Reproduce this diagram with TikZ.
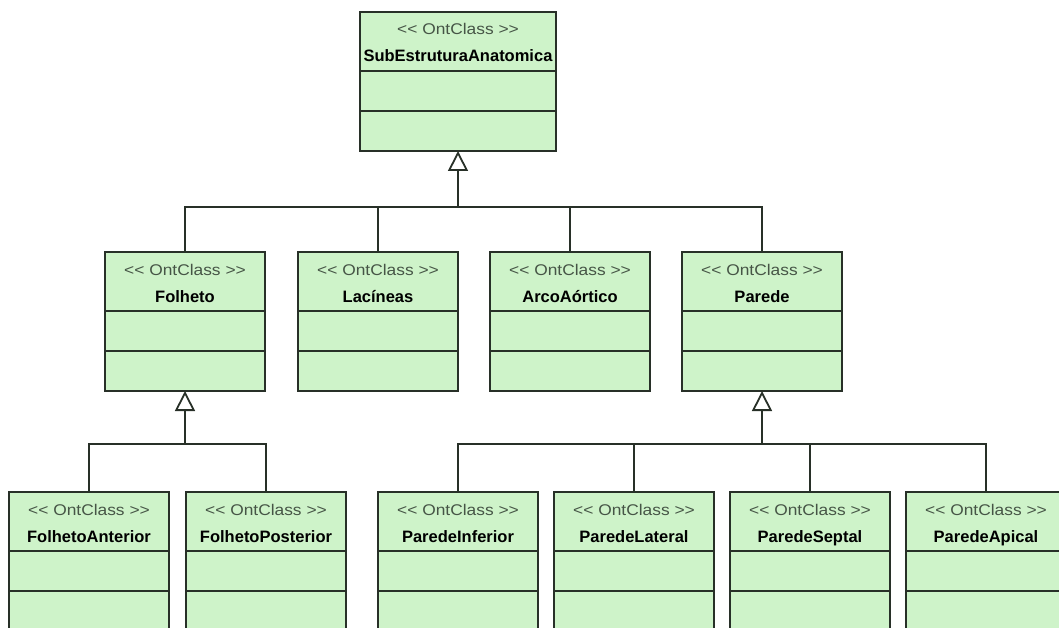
\documentclass[tikz,border=0pt]{standalone}
\usepackage{fontspec}
\setmainfont{Liberation Sans}
\newfontfamily\stereofont[FakeStretch=1.12]{Liberation Sans}
\usetikzlibrary{arrows.meta}

\definecolor{boxfill}{RGB}{206,243,201}
\definecolor{boxline}{RGB}{40,48,40}
\definecolor{stereo}{RGB}{70,85,70}

\tikzset{
  classbox/.style={draw=boxline, fill=boxfill, line width=1.8pt, rectangle,
    inner sep=0pt, outer sep=0pt, minimum height=139pt},
  stereotxt/.style={font=\stereofont\fontsize{15.5}{18}\selectfont, text=stereo, inner sep=0pt},
  nametxt/.style={font=\fontsize{16.5}{19}\selectfont\bfseries, inner sep=0pt},
  sepline/.style={draw=boxline, line width=1.8pt},
  link/.style={draw=boxline, line width=1.8pt},
  gen/.style={link, -{Triangle[open, length=20pt, width=20pt, fill=white]}},
}

% UML class box: name, x centre, y top, width, class name
\newcommand{\umlclass}[5]{%
  \node[classbox, minimum width=#4pt, anchor=north] (#1) at (#2,#3) {};
  \node[stereotxt, anchor=base] (#1-st) at ([yshift=-23pt]#1.north)
    {<{}< OntClass >{}>};
  \node[nametxt, anchor=base] (#1-nm) at ([yshift=-50pt]#1.north) {#5};
  \draw[sepline] ([yshift=-59pt]#1.north west) -- ([yshift=-59pt]#1.north east);
  \draw[sepline] ([yshift=-99pt]#1.north west) -- ([yshift=-99pt]#1.north east);
}

\begin{document}
\begin{tikzpicture}[x=1pt, y=-1pt]
  \fill[white] (0,0) rectangle (1059,628);
  \clip (0,0) rectangle (1059,628);

  % root
  \umlclass{sub}{458}{12}{196}{SubEstruturaAnatomica}

  % second level
  \umlclass{fol}{185}{252}{160}{Folheto}
  \umlclass{lac}{378}{252}{160}{Lacíneas}
  \umlclass{arc}{570}{252}{160}{ArcoAórtico}
  \umlclass{par}{762}{252}{160}{Parede}

  % third level
  \umlclass{fa}{89}{492}{160}{FolhetoAnterior}
  \umlclass{fp}{266}{492}{160}{FolhetoPosterior}
  \umlclass{pi}{458}{492}{160}{ParedeInferior}
  \umlclass{pl}{634}{492}{160}{ParedeLateral}
  \umlclass{ps}{810}{492}{160}{ParedeSeptal}
  \umlclass{pa}{986}{492}{160}{ParedeApical}

  % junction points of the generalisation trees
  \coordinate (j0) at (458,207);
  \coordinate (j1) at (185,444);
  \coordinate (j2) at (762,444);

  % SubEstruturaAnatomica hierarchy
  \draw[gen] (j0) -- (sub.south);
  \draw[link] (fol.north) |- (j0) -| (par.north);
  \draw[link] (lac.north) -- (lac.north |- j0);
  \draw[link] (arc.north) -- (arc.north |- j0);

  % Folheto hierarchy
  \draw[gen] (j1) -- (fol.south);
  \draw[link] (fa.north) |- (j1) -| (fp.north);

  % Parede hierarchy
  \draw[gen] (j2) -- (par.south);
  \draw[link] (pi.north) |- (j2) -| (pa.north);
  \draw[link] (pl.north) -- (pl.north |- j2);
  \draw[link] (ps.north) -- (ps.north |- j2);
\end{tikzpicture}
\end{document}
